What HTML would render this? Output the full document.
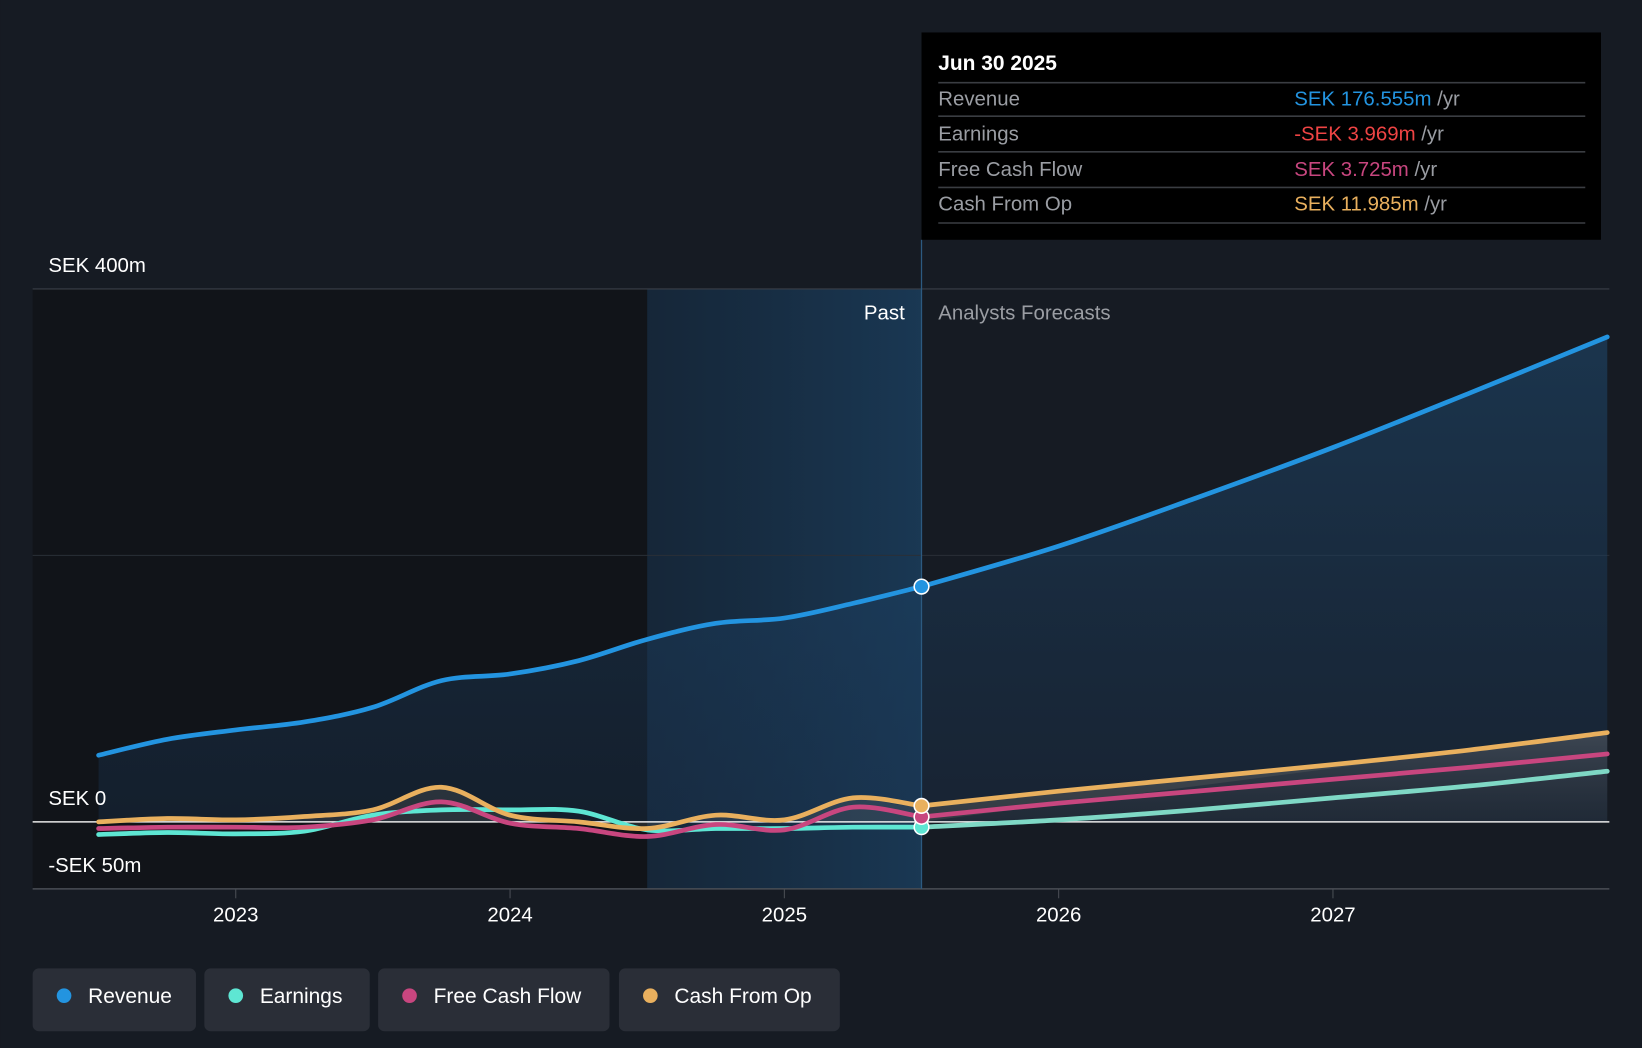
<!DOCTYPE html>
<html><head><meta charset="utf-8"><style>
html,body{margin:0;padding:0;background:#161b23;}
svg{display:block;font-family:"Liberation Sans",sans-serif;}
</style></head><body>
<svg id="chart" width="1642" height="1048" viewBox="0 0 1568 1001" xmlns="http://www.w3.org/2000/svg">
<defs>
<linearGradient id="revFill" x1="0" y1="0" x2="0" y2="1"><stop offset="0" stop-color="#1f4a70" stop-opacity="0.55"/><stop offset="1" stop-color="#1a3350" stop-opacity="0.35"/></linearGradient>
<linearGradient id="hl" x1="0" y1="0" x2="1" y2="0"><stop offset="0" stop-color="#15324e" stop-opacity="0.5"/><stop offset="1" stop-color="#1b4468" stop-opacity="0.7"/></linearGradient>
<linearGradient id="grayFill" x1="0" y1="0" x2="0" y2="1"><stop offset="0" stop-color="#6a6e74" stop-opacity="0.45"/><stop offset="1" stop-color="#3a3d42" stop-opacity="0.25"/></linearGradient>
</defs>
<rect x="0" y="0" width="1568" height="1001" fill="#161b23"/>
<rect x="31" y="276" width="587" height="573" fill="#111419"/>
<g id="plot"></g>
</svg>
<script>
const years=[2023,2024,2025,2026,2027];
const yTicks=[400,0,-50];
const yTickLabels=["SEK 400m","SEK 0","-SEK 50m"];
const tPast=[2022.5,2022.75,2023,2023.25,2023.5,2023.75,2024,2024.25,2024.5,2024.75,2025,2025.25,2025.5];
const tFc=[2025.5,2026,2026.5,2027,2027.5,2028];
const revenuePast=[50,62,69,75,86,106,111,121,137,149,153,164,176.6];
const revenueFc=[176.6,207,243,281,322,364];
const earningsPast=[-9.5,-8,-9,-7,5,9,9,8,-6,-5,-5,-4,-4];
const earningsFc=[-4,1.5,9,18,27,38];
const fcfPast=[-5,-4,-4,-4,1.5,15,-1,-5,-11,-2,-6,11,3.7];
const fcfFc=[3.7,14,23,32,41,51];
const cfoPast=[0,2.5,1.5,4,9,26,5,0,-5,5,1.5,18,12];
const cfoFc=[12,23,33,43,54,67];

const X=t=>225+(t-2023)*262;
const Y=v=>785-v*1.2725;
const svg=document.getElementById('plot');
const NS='http://www.w3.org/2000/svg';
function mk(tag,attrs,parent){const e=document.createElementNS(NS,tag);for(const k in attrs)e.setAttribute(k,attrs[k]);(parent||svg).appendChild(e);return e;}
function pathD(ts,vs){const p=ts.map((t,i)=>[X(t),Y(vs[i])]);let d=`M${p[0][0]},${p[0][1]}`;
for(let i=0;i<p.length-1;i++){const p0=p[i-1]||p[i],p1=p[i],p2=p[i+1],p3=p[i+2]||p2;
const c1=[p1[0]+(p2[0]-p0[0])/6,p1[1]+(p2[1]-p0[1])/6],c2=[p2[0]-(p3[0]-p1[0])/6,p2[1]-(p3[1]-p1[1])/6];
d+=`C${c1[0]},${c1[1]} ${c2[0]},${c2[1]} ${p2[0]},${p2[1]}`;}return d;}

let e=mk('rect',{x:618,y:276,width:262,height:573,fill:'url(#hl)'});


e=mk('line',{x1:31,x2:1537,y1:Y(400),y2:Y(400),stroke:'#3a3f47','stroke-width':1});


e=mk('line',{x1:31,x2:1537,y1:Y(200),y2:Y(200),stroke:'#2a2f37','stroke-width':1});



const allT=tPast.concat(tFc.slice(1)), allRev=revenuePast.concat(revenueFc.slice(1));
e=mk('path',{d:pathD(allT,allRev)+`L${X(allT[allT.length-1])},${Y(0)}L${X(allT[0])},${Y(0)}Z`,fill:'url(#revFill)'});


e=mk('path',{d:pathD(tFc,cfoFc)+`L${X(tFc[tFc.length-1])},${Y(0)}L${X(tFc[0])},${Y(0)}Z`,fill:'url(#grayFill)'});


const allCfo=cfoPast.concat(cfoFc.slice(1));
e=mk('path',{d:pathD(allT,allCfo)+`L${X(2025.5)},${Y(0)}L${X(2022.5)},${Y(0)}Z`,fill:'#6b6a66','fill-opacity':0.25});



e=mk('line',{x1:31,x2:1537,y1:Y(0),y2:Y(0),stroke:'#e8e8e8','stroke-width':1.5});


e=mk('line',{x1:31,x2:1537,y1:849,y2:849,stroke:'#4a4e55','stroke-width':1.5});



const series=[
 ['earnings',earningsPast,earningsFc,'#5ee6d3','#7fd8c5'],
 ['free-cash-flow',fcfPast,fcfFc,'#c8467f','#c8467f'],
 ['cash-from-op',cfoPast,cfoFc,'#e9b05e','#e9b05e'],
 ['revenue',revenuePast,revenueFc,'#2394e0','#2394e0']];
series.forEach(s=>{
 let p=mk('path',{d:pathD(tPast,s[1]),fill:'none',stroke:s[3],'stroke-width':4.5,'stroke-linecap':'round'});
 
 
 p=mk('path',{d:pathD(tFc,s[2]),fill:'none',stroke:s[4],'stroke-width':4.5,'stroke-linecap':'round'});
 
 
});
e=mk('line',{x1:880,x2:880,y1:229,y2:849,stroke:'#2c5a80','stroke-width':1.2});


series.forEach(s=>{
 const c=mk('circle',{cx:X(2025.5),cy:Y(s[1][s[1].length-1]),r:7,fill:s[3],stroke:'#fff','stroke-width':1.5});
 
 
});

const yBase={400:260,0:769,'-50':833};
yTicks.forEach((v,i)=>{const t=mk('text',{x:46,y:yBase[v],fill:'#fff','font-size':19.5});t.textContent=yTickLabels[i];
 
 });
years.forEach(yr=>{
 const tk=mk('line',{x1:X(yr),x2:X(yr),y1:849,y2:858,stroke:'#4a4e55','stroke-width':1});
 
 
 const t=mk('text',{x:X(yr),y:880,fill:'#fff','font-size':19.5,'text-anchor':'middle'});t.textContent=yr;
 
 });
e=mk('text',{x:864,y:305,fill:'#fff','font-size':19.5,'text-anchor':'end'});e.textContent='Past';


e=mk('text',{x:896,y:305,fill:'#9a9da3','font-size':19.5});e.textContent='Analysts Forecasts';



const tip=mk('g',{});


mk('rect',{x:880,y:31,width:649,height:198,fill:'#000'},tip);
e=mk('text',{x:896,y:67,fill:'#fff','font-size':20,'font-weight':'bold'},tip);e.textContent='Jun 30 2025';


[79,111,145,179,213].forEach(y=>mk('line',{x1:896,x2:1514,y1:y,y2:y,stroke:'#3a3d42','stroke-width':1.5},tip));
const rows=[['Revenue','SEK 176.555m','#2394e0'],['Earnings','-SEK 3.969m','#ef4444'],['Free Cash Flow','SEK 3.725m','#c8467f'],['Cash From Op','SEK 11.985m','#e9b05e']];
const rb=[101,134,168,201];
rows.forEach((r,i)=>{
 let t=mk('text',{x:896,y:rb[i],fill:'#9a9da3','font-size':19.5},tip);t.textContent=r[0];
 
 
 t=mk('text',{x:1236,y:rb[i],'font-size':19.5},tip);
 
 
 const a=document.createElementNS(NS,'tspan');a.setAttribute('fill',r[2]);a.textContent=r[1];t.appendChild(a);
 const b=document.createElementNS(NS,'tspan');b.setAttribute('fill','#9a9da3');b.textContent=' /yr';t.appendChild(b);
});

const leg=[['Revenue','#2394e0',31,156],['Earnings','#5ee6d3',195,158],['Free Cash Flow','#c8467f',361,221],['Cash From Op','#e9b05e',591,211]];
leg.forEach(l=>{
 const g=mk('g',{});
 
 
 mk('rect',{x:l[2],y:925,width:l[3],height:60,rx:6,fill:'#2a2e37'},g);
 mk('circle',{cx:l[2]+30,cy:951,r:7,fill:l[1]},g);
 const t=mk('text',{x:l[2]+53,y:958,fill:'#fff','font-size':20},g);t.textContent=l[0];
});
</script>
</body></html>
